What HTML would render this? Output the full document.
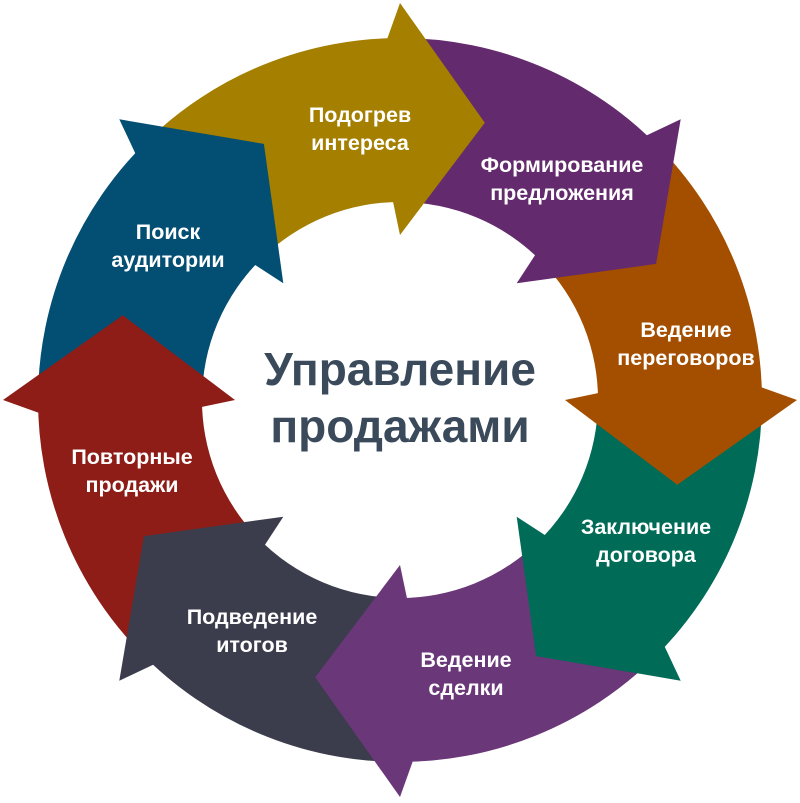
<!DOCTYPE html>
<html><head><meta charset="utf-8"><style>
html,body{margin:0;padding:0;background:#fff;width:800px;height:803px;overflow:hidden}
svg{display:block}
text{font-family:"Liberation Sans",sans-serif;font-weight:bold;fill:#fff;text-anchor:middle}
</style></head><body>
<svg id="s" width="800" height="803" viewBox="0 0 800 803">
<g id="g"></g>
<text x="400" y="385" style="font-size:46px;fill:#3a4a5a">Управление</text>
<text x="400" y="442" style="font-size:46px;fill:#3a4a5a">продажами</text>
<g style="font-size:21.5px">
<text x="360" y="122">Подогрев</text><text x="360" y="150">интереса</text>
<text x="562" y="172">Формирование</text><text x="562" y="200">предложения</text>
<text x="686" y="337">Ведение</text><text x="686" y="365">переговоров</text>
<text x="646" y="534">Заключение</text><text x="646" y="562">договора</text>
<text x="466" y="667">Ведение</text><text x="466" y="695">сделки</text>
<text x="252" y="624">Подведение</text><text x="252" y="652">итогов</text>
<text x="132" y="464">Повторные</text><text x="132" y="492">продажи</text>
<text x="168" y="239">Поиск</text><text x="168" y="267">аудитории</text>
</g>
</svg>
<script>
var cx=400,cy=400,R=362,r=198,HO=397,HI=165,M=290,T=17;
function p(a,rad){var t=(a-90)*Math.PI/180;return (cx+rad*Math.cos(t)).toFixed(1)+","+(cy+rad*Math.sin(t)).toFixed(1);}
var segs=[[-45,"#a47f00"],[0,"#642a6e"],[45,"#a44f00"],[90,"#006b56"],[135,"#6a3778"],[180,"#3b3d4d"],[225,"#8e1d18"],[270,"#034e73"]];
var bodies="",heads="";
segs.forEach(function(s){var a=s[0],b=a+45;
bodies+='<path d="M'+p(a,R)+' A'+R+','+R+' 0 0 1 '+p(b+1,R)+' L'+p(b+1,r)+' A'+r+','+r+' 0 0 0 '+p(a,r)+' L'+p(a+T-2,M)+' Z" fill="'+s[1]+'"/>';
heads+='<path d="M'+p(b-2,R)+' L'+p(b,HO)+' L'+p(b+T,M)+' L'+p(b,HI)+' L'+p(b-2,r)+' Z" fill="'+s[1]+'"/>';});
document.getElementById("g").innerHTML=bodies+heads;
</script>
</body></html>
